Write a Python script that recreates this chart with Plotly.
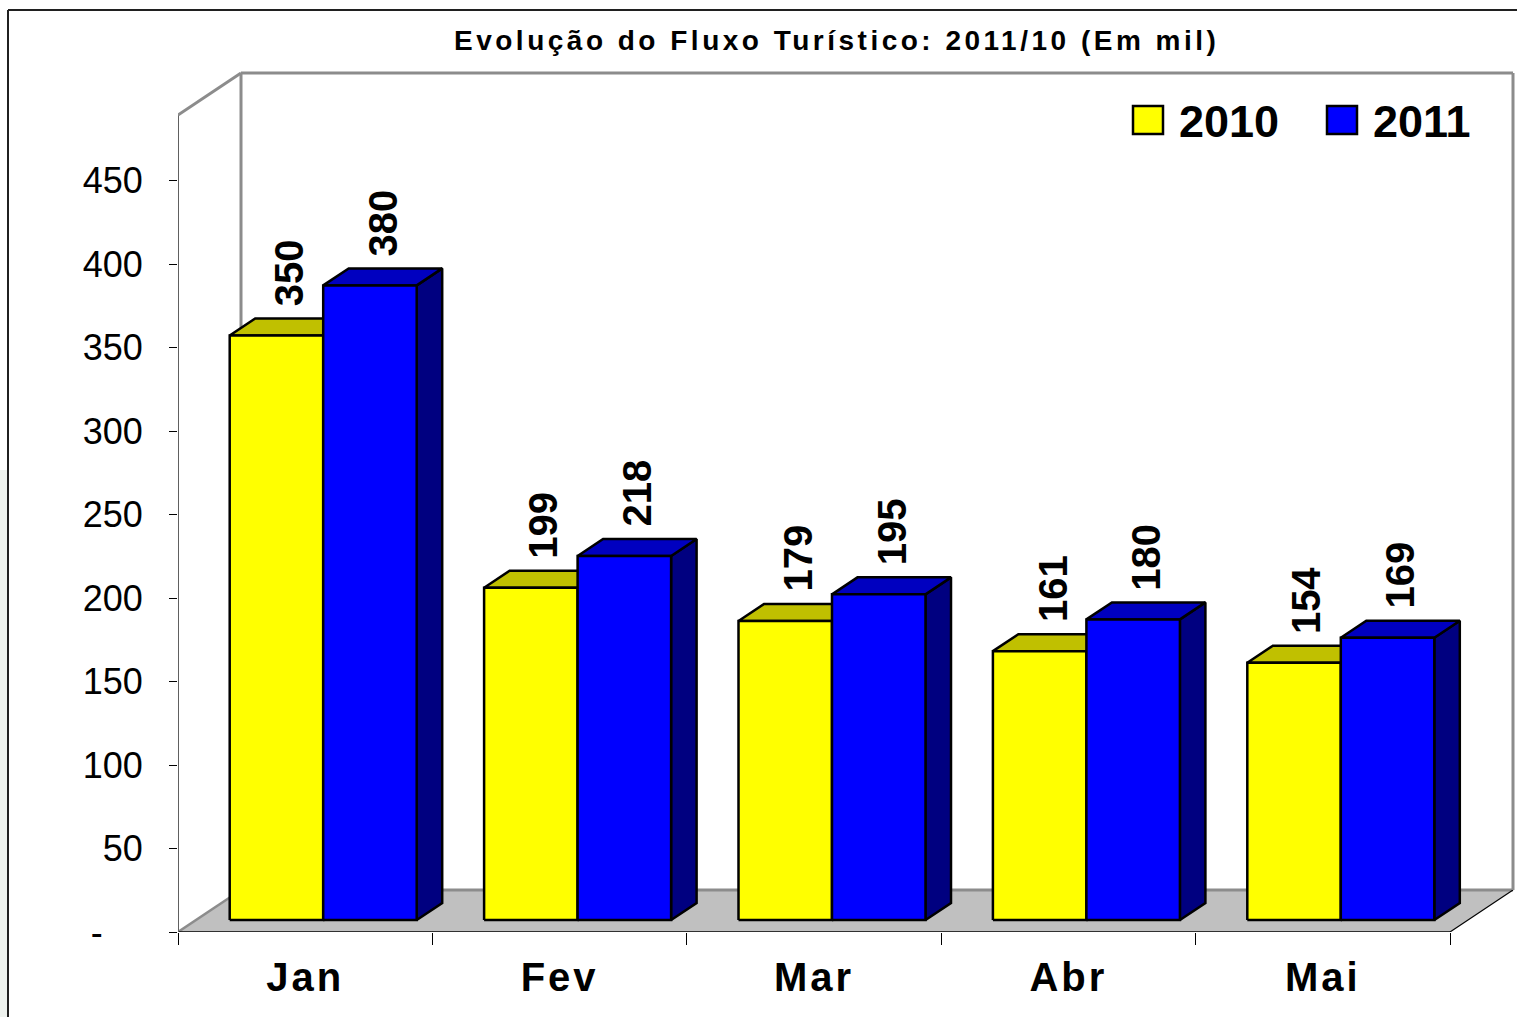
import plotly.graph_objects as go

# ---------------- data ----------------
months = ["Jan", "Fev", "Mar", "Abr", "Mai"]
series_names = ["2010", "2011"]
values_2010 = [350, 199, 179, 161, 154]
values_2011 = [380, 218, 195, 180, 169]
y_tickvals = [0, 50, 100, 150, 200, 250, 300, 350, 400, 450]
y_ticktext = ["-\u00a0\u00a0\u00a0\u00a0", "50", "100", "150", "200", "250", "300", "350", "400", "450"]
title_text = "Evolução do Fluxo Turístico: 2011/10 (Em mil)"

# ---------------- styles ----------------
front_colors = ["#FFFF00", "#0000FF"]
top_colors = ["#C0C000", "#0000C0"]
side_colors = ["#808000", "#000080"]
FONT = "Arial, Liberation Sans, sans-serif"

# ---------------- layout geometry (pixels) ----------------
W, H = 1517, 1017
PL, PR, PT, PB = 178, 1517, 60, 932       # plot area edges
CAT_PX = 254.4                              # pixels per category
UNIT_PX = 1.67                              # pixels per value unit
x_range = [0, (PR - PL) / CAT_PX]
y_range = [0, (PB - PT) / UNIT_PX]
DX = 63 / CAT_PX                            # full depth, x component (data units)
DY = 42 / UNIT_PX                           # full depth, y component (data units)
WALL_TOP = (PB - 115) / UNIT_PX
BAR_W = 93.5 / CAT_PX
D0, D1 = 12 / 42, 29 / 42                   # bar depth position (fraction of floor depth)
n = len(months)


def px_to_paper_x(px):
    return (px - PL) / (PR - PL)


def px_to_paper_y(py):
    return (PB - py) / (PB - PT)


fig = go.Figure()


def poly(xs, ys, fill, line_color, width):
    fig.add_trace(go.Scatter(
        x=list(xs) + [xs[0]], y=list(ys) + [ys[0]],
        mode="lines", fill="toself", fillcolor=fill,
        line=dict(color=line_color, width=width),
        hoverinfo="skip", showlegend=False))


def seg(xs, ys, color, width):
    fig.add_trace(go.Scatter(
        x=xs, y=ys, mode="lines", line=dict(color=color, width=width),
        hoverinfo="skip", showlegend=False))


# floor
poly([0, n, n + DX, DX], [0, 0, DY, DY], "#C0C0C0", "rgba(0,0,0,0)", 0)
seg([0, DX], [0, DY], "#8C8C8C", 2.5)
seg([DX, n + DX], [DY, DY], "#8C8C8C", 3)
seg([0, n], [0, 0], "#000000", 1.5)
seg([n, n + DX], [0, DY], "#000000", 1.2)
# walls
seg([0, 0], [0, WALL_TOP], "#606060", 2)
seg([0, DX], [WALL_TOP, WALL_TOP + DY], "#8C8C8C", 3)
seg([DX, DX], [DY, WALL_TOP + DY], "#8C8C8C", 3)
seg([DX, n + DX], [WALL_TOP + DY, WALL_TOP + DY], "#8C8C8C", 3)
seg([n + DX, n + DX], [DY, WALL_TOP + DY], "#8C8C8C", 3)

# bars
annotations = []
series_values = [values_2010, values_2011]
bd = D1 - D0
for i in range(n):
    c = i + 0.5
    for s, vals in enumerate(series_values):
        v = vals[i]
        xl = c - BAR_W + s * BAR_W + D0 * DX
        xr = xl + BAR_W
        base = D0 * DY
        top = base + v
        # side face
        poly([xr, xr, xr + bd * DX, xr + bd * DX],
             [base, top, top + bd * DY, base + bd * DY],
             side_colors[s], "#000000", 2.5)
        # top face
        poly([xl, xr, xr + bd * DX, xl + bd * DX],
             [top, top, top + bd * DY, top + bd * DY],
             top_colors[s], "#000000", 2.5)
        # front face
        poly([xl, xr, xr, xl], [base, base, top, top],
             front_colors[s], "#000000", 2.5)
        annotations.append(dict(
            x=xl + BAR_W / 2 + bd * DX / 2, y=top + bd * DY,
            xref="x", yref="y", text=f"<b>{v}</b>", showarrow=False,
            textangle=-90, xanchor="center", yanchor="bottom", yshift=10,
            font=dict(family=FONT, size=40, color="#000000")))

# title
annotations.append(dict(
    x=px_to_paper_x(836), y=px_to_paper_y(41), xref="paper", yref="paper",
    text=f"<span style='letter-spacing:3.5px'><b>{title_text}</b></span>",
    showarrow=False, xanchor="center", yanchor="middle",
    font=dict(family=FONT, size=28, color="#000000")))

# legend (manual, large keys)
shapes = []
legend_boxes = [(1133, 1163), (1327, 1357)]
for s, name in enumerate(series_names):
    x0, x1 = legend_boxes[s]
    shapes.append(dict(type="rect", xref="paper", yref="paper",
                       x0=px_to_paper_x(x0), x1=px_to_paper_x(x1),
                       y0=px_to_paper_y(134), y1=px_to_paper_y(106),
                       fillcolor=front_colors[s], line=dict(color="#000000", width=2.5)))
    annotations.append(dict(
        x=px_to_paper_x(x1 + 14), y=px_to_paper_y(121), xref="paper", yref="paper",
        text=f"<b>{name}</b>", showarrow=False, xanchor="left", yanchor="middle",
        font=dict(family=FONT, size=45, color="#000000")))

# outer border and faint strip at left edge
shapes.append(dict(type="rect", xref="paper", yref="paper", layer="below",
                   x0=px_to_paper_x(0), x1=px_to_paper_x(7),
                   y0=px_to_paper_y(470), y1=px_to_paper_y(1017),
                   fillcolor="#EEF2EE", line=dict(width=0)))
shapes.append(dict(type="line", xref="paper", yref="paper",
                   x0=px_to_paper_x(8), x1=px_to_paper_x(1517),
                   y0=px_to_paper_y(10), y1=px_to_paper_y(10),
                   line=dict(color="#202020", width=2)))
shapes.append(dict(type="line", xref="paper", yref="paper",
                   x0=px_to_paper_x(8), x1=px_to_paper_x(8),
                   y0=px_to_paper_y(10), y1=px_to_paper_y(1017),
                   line=dict(color="#202020", width=2)))

month_labels = [f"<span style='letter-spacing:3px'>{m}</span>" for m in months]

fig.update_layout(
    width=W, height=H, autosize=False,
    margin=dict(l=PL, r=W - PR, t=PT, b=H - PB, pad=0),
    paper_bgcolor="#FFFFFF", plot_bgcolor="rgba(0,0,0,0)",
    showlegend=False,
    annotations=annotations, shapes=shapes,
    xaxis=dict(range=x_range, showgrid=False, zeroline=False, showline=False,
               tickmode="array", tickvals=[i + 0.5 for i in range(n)], ticktext=month_labels,
               ticks="", tickfont=dict(family=FONT, size=40, color="#000000", weight="bold"),
               minor=dict(tickmode="array", tickvals=list(range(n + 1)), ticks="outside",
                          ticklen=12, tickwidth=1.2, tickcolor="#000000", showgrid=False),
               ticklabelstandoff=18, fixedrange=True),
    yaxis=dict(range=y_range, showgrid=False, zeroline=False, showline=False,
               tickmode="array", tickvals=y_tickvals, ticktext=y_ticktext,
               ticks="outside", ticklen=8, tickwidth=1.2, tickcolor="#000000",
               tickfont=dict(family=FONT, size=36, color="#000000"),
               ticklabelstandoff=19, fixedrange=True),
)

fig.write_html("out.html", config={"displayModeBar": False},
               post_script="document.body.style.margin='0';")
